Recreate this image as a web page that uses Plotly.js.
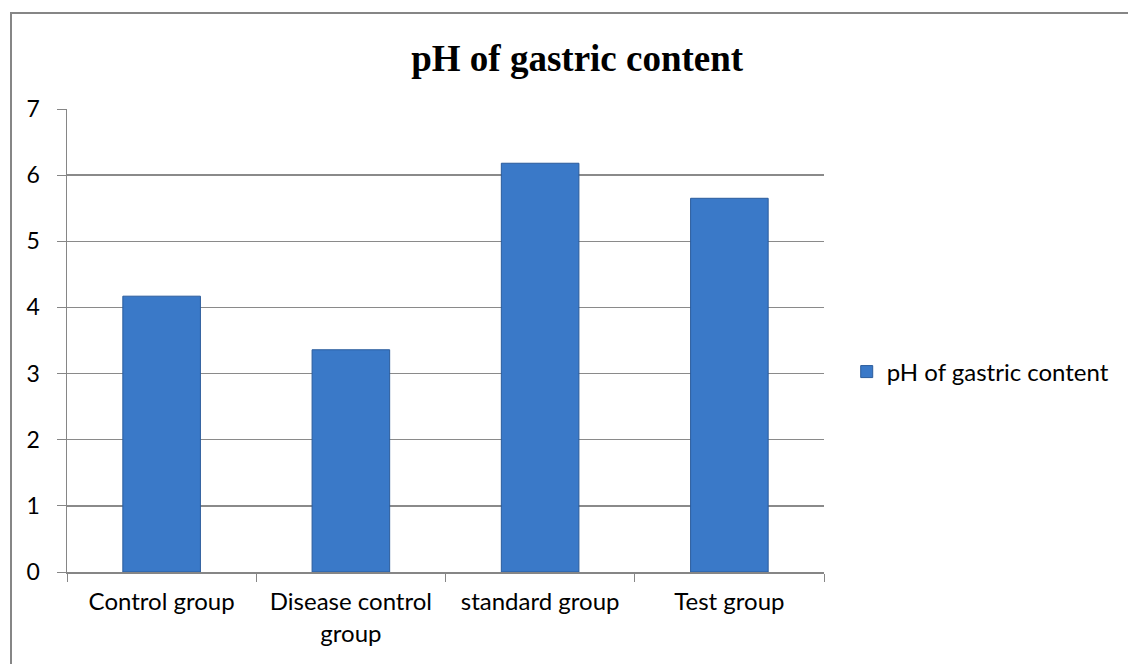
<!DOCTYPE html>
<html>
<head>
<meta charset="utf-8">
<script src="https://cdn.plot.ly/plotly-3.0.1.min.js"></script>
<style>html,body{margin:0;padding:0;background:#fff;}</style>
</head>
<body>
<div id="chart" style="width:1128px;height:664px;"></div>
<script>
const categories = ["Control group", "Disease control<br>group", "standard group", "Test group"];
const phValues = [4.17, 3.36, 6.18, 5.65];
const seriesName = "pH of gastric content";
const yTicks = [0, 1, 2, 3, 4, 5, 6, 7];

const trace = {
  type: "bar",
  x: categories,
  y: phValues,
  name: seriesName,
  marker: { color: "#3a79c8", line: { color: "#2b5c9c", width: 1 } },
  showlegend: true
};

const layout = {
  width: 1128, height: 664,
  margin: { l: 67, r: 304, t: 109, b: 92 },
  paper_bgcolor: "#ffffff", plot_bgcolor: "#ffffff",
  bargap: 0.59,
  title: {
    text: "<b>pH of gastric content</b>",
    font: { family: "Liberation Serif", size: 37, color: "#000" },
    x: 0.674, xref: "paper", xanchor: "center",
    y: 0.912, yanchor: "middle"
  },
  xaxis: {
    type: "category",
    showline: true, linecolor: "#868686", linewidth: 1.5,
    ticks: "outside", tickson: "boundaries", ticklen: 8, tickcolor: "#868686",
    showgrid: false,
    tickfont: { family: "Lato", size: 24, color: "#000" },
    ticklabelstandoff: 8
  },
  yaxis: {
    range: [0, 7], tickvals: yTicks,
    showline: true, linecolor: "#868686", linewidth: 1.5,
    ticks: "outside", ticklen: 9, tickcolor: "#868686",
    showgrid: true, gridcolor: "#8a8a8a", gridwidth: 1.5,
    zeroline: false,
    tickfont: { family: "Lato", size: 23, color: "#000" },
    ticklabelstandoff: 12
  },
  legend: {
    x: 1.030, xanchor: "left", y: 0.432, yanchor: "middle",
    font: { family: "Lato", size: 24, color: "#000" },
    itemwidth: 30, bgcolor: "rgba(0,0,0,0)"
  },
  shapes: [
    { type: "rect", xref: "paper", yref: "paper",
      x0: (11 - 67) / 757, x1: (1140 - 67) / 757,
      y0: (572 - 700) / 463, y1: (572 - 13) / 463,
      line: { color: "#868686", width: 2 }, fillcolor: "rgba(0,0,0,0)", layer: "below" }
  ]
};

Plotly.newPlot("chart", [trace], layout, { displayModeBar: false, staticPlot: true });
</script>
</body>
</html>
